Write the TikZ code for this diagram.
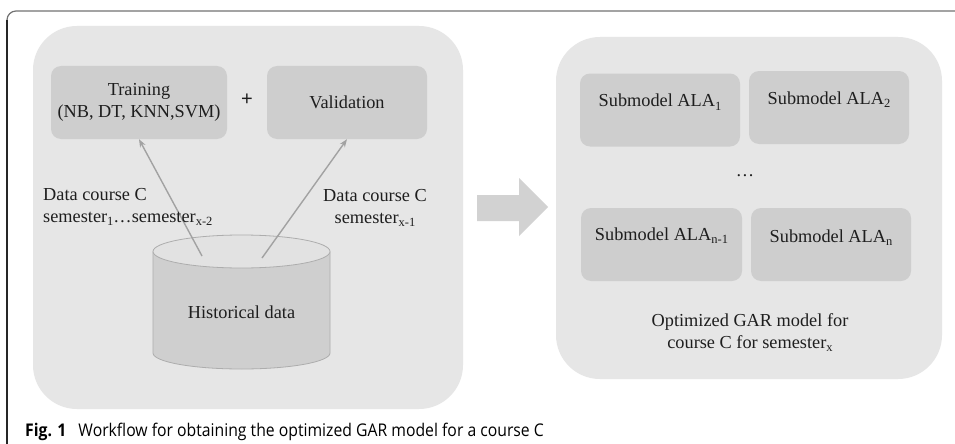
\documentclass[tikz,border=0pt]{standalone}
\usepackage{fontspec}
\setmainfont{Liberation Serif}
\newfontfamily\capfont[FakeStretch=0.9]{Open Sans}
\newfontfamily\plusfont{Liberation Sans}
\usetikzlibrary{arrows.meta}

\definecolor{panelgray}{HTML}{E6E6E6}
\definecolor{boxgray}{HTML}{CECECE}
\definecolor{cylbody}{HTML}{CFCFCF}
\definecolor{cyltop}{HTML}{E2E2E2}
\definecolor{cylline}{HTML}{ADADAD}
\definecolor{linkgray}{HTML}{A2A2A2}
\definecolor{bigarrow}{HTML}{D2D2D2}
\definecolor{textgray}{HTML}{1E1E1E}

% small lowered index in the serif labels
\newcommand\lowidx[1]{\raisebox{-0.45ex}{\fontsize{12.5}{12.5}\selectfont #1}}

\tikzset{
  panel/.style={fill=panelgray, draw=none, rounded corners=44pt},
  modbox/.style={fill=boxgray, draw=none, rounded corners=10pt, inner sep=0pt,
                 font=\fontsize{18.3}{22}\selectfont, text=textgray},
  lbl/.style={inner sep=0pt, font=\fontsize{18.3}{22}\selectfont, text=textgray},
  link/.style={draw=linkgray, line width=1.4pt,
               -{Stealth[length=8pt,width=6pt]}},
}

\begin{document}
\begin{tikzpicture}[x=1pt,y=-1pt]
\useasboundingbox (0,0) rectangle (955,444);
\fill[white] (0,0) rectangle (955,444);

% figure frame (top rule with rounded corner, then left rule)
\draw[draw=black!55, line width=1.2pt] (955,11) -- (16,11) arc[start angle=270, end angle=180, radius=9];
\draw[draw=black!85, line width=1.1pt] (7,20) -- (7,444);

% the two grey panels
\fill[panel] (33,26) rectangle (463,409);
\fill[panel] (556,37) rectangle (942,379);

% training and validation boxes
\node[modbox, minimum width=176, minimum height=73] (train) at (139,102.5) {};
\node[lbl, anchor=base, align=center] (trainlbl) at (139,117) {Training\\(NB, DT, KNN,SVM)};
\node[modbox, minimum width=160, minimum height=73, text height=42, text depth=31] (val) at (347,102.5) {Validation};
\node[lbl, font=\plusfont\fontsize{20}{20}\selectfont] (plus) at (247,100) {+};

% historical data cylinder
\fill[cylbody] (153,251.5) -- (153,353) arc[start angle=180, end angle=0, x radius=88.5, y radius=16] -- (330,251.5) -- cycle;
\draw[cylline, line width=0.8pt] (153,251.5) -- (153,353) arc[start angle=180, end angle=0, x radius=88.5, y radius=16] -- (330,251.5);
\filldraw[fill=cyltop, draw=cylline, line width=0.8pt] (241.5,251.5) ellipse[x radius=88.5, y radius=16.5];
\node[lbl, anchor=base] (hist) at (241.5,318) {Historical data};

% data flows out of the store
\coordinate (outA) at (202,256);
\coordinate (outB) at (262,258);
\draw[link] (outA) -- (train.south);
\draw[link] (outB) -- (val.south);
\node[lbl, anchor=base west, align=left] (lblA) at (43,222) {Data course C\\semester\lowidx{1}\ldots semester\lowidx{x-2}};
\node[lbl, anchor=base, align=center] (lblB) at (375,223) {Data course C\\semester\lowidx{x-1}};

% block arrow between the panels
\fill[bigarrow] (477,195) -- (519,195) -- (519,178) -- (548,207) -- (519,236) -- (519,221) -- (477,221) -- cycle;

% submodels
\node[modbox, minimum width=160, minimum height=73, text height=33, text depth=40] (s1) at (660,110) {Submodel ALA\lowidx{1}};
\node[modbox, minimum width=160, minimum height=73, text height=33, text depth=40] (s2) at (829,107.5) {Submodel ALA\lowidx{2}};
\node[modbox, minimum width=161, minimum height=73, text height=32, text depth=41] (s3) at (661.5,244.5) {Submodel ALA\lowidx{n-1}};
\node[modbox, minimum width=160, minimum height=73, text height=34, text depth=39] (s4) at (831,244.5) {Submodel ALA\lowidx{n}};
\node[lbl] (dots) at (745,176) {\ldots};
\node[lbl, anchor=base, align=center] (gar) at (750,348) {Optimized GAR model for\\course C for semester\lowidx{x}};

% caption
\node[anchor=base west, inner sep=0pt, font=\capfont\fontsize{17.5}{17.5}\selectfont] (cap) at (25,436)
  {\textbf{Fig. 1}\hspace{12pt}Workflow for obtaining the optimized GAR model for a course C};
\end{tikzpicture}
\end{document}
